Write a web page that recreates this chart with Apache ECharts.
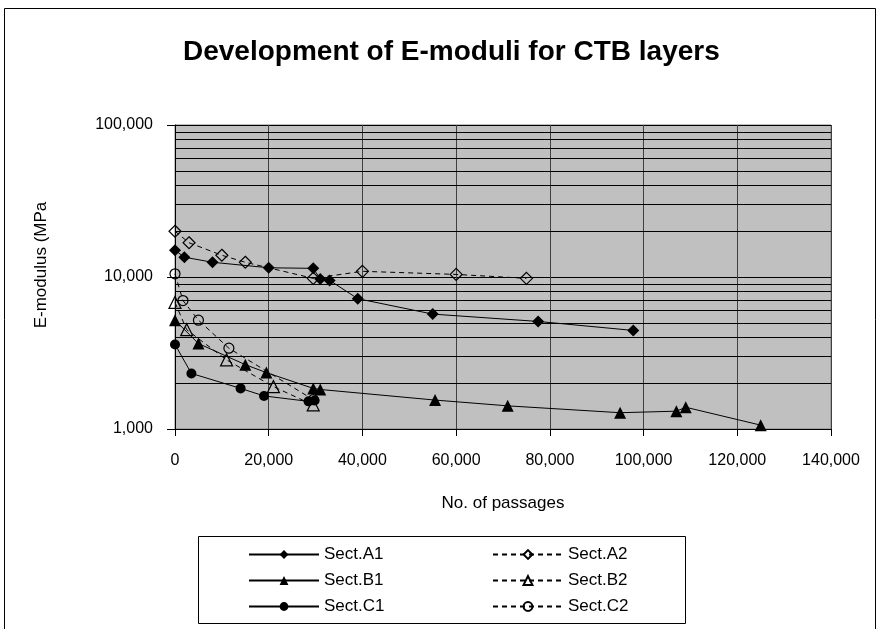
<!DOCTYPE html>
<html>
<head>
<meta charset="utf-8">
<script src="https://cdn.jsdelivr.net/npm/echarts@6/dist/echarts.min.js"></script>
<style>
  html, body { margin: 0; padding: 0; background: #fff; }
  #chart { width: 880px; height: 629px; }
</style>
</head>
<body>
<div id="chart"></div>
<script>
// E-modulus (MPa) measured against number of passages, per section
const sectA1 = [[0, 15000], [2000, 13500], [8000, 12500], [20000, 11500], [29500, 11400], [31000, 9700], [33000, 9500], [39000, 7200], [55000, 5700], [77500, 5100], [97800, 4450]];
const sectA2 = [[0, 20000], [3000, 16800], [10000, 13900], [15000, 12500], [29500, 9800], [40000, 10900], [60000, 10400], [75000, 9800]];
const sectB1 = [[0, 5200], [5000, 3650], [15000, 2650], [19500, 2350], [29500, 1850], [31000, 1820], [55500, 1550], [71000, 1420], [95000, 1280], [107000, 1310], [109000, 1390], [125000, 1060]];
const sectB2 = [[0, 6800], [2500, 4500], [11000, 2850], [21000, 1900], [29500, 1440]];
const sectC1 = [[0, 3600], [3500, 2320], [14000, 1850], [19000, 1650], [28500, 1520], [29800, 1540]];
const sectC2 = [[0, 10500], [1700, 7000], [5000, 5200], [11500, 3400], [29500, 1560]];

// Intermediate log-scale gridlines
const minorGrid = [2000, 3000, 4000, 5000, 6000, 7000, 8000, 9000, 20000, 30000, 40000, 50000, 60000, 70000, 80000, 90000];

const FONT = '"Liberation Sans", Arial, sans-serif';
const fmt = v => Number(v).toLocaleString('en-US');

function lineSeries(name, data, filled, symbol, size) {
  return {
    name: name,
    type: 'line',
    data: data,
    symbol: symbol,
    symbolSize: size,
    showSymbol: true,
    z: 3,
    silent: true,
    lineStyle: { color: '#000', width: 1, type: filled ? 'solid' : [5, 4] },
    itemStyle: filled
      ? { color: '#000', borderColor: '#000', borderWidth: 0 }
      : { color: 'rgba(0,0,0,0)', borderColor: '#000', borderWidth: 1.2 },
    emphasis: { disabled: true }
  };
}

const legendCommon = {
  orient: 'vertical', top: 541,
  itemWidth: 70, itemHeight: 11, itemGap: 9,
  textStyle: { fontFamily: FONT, fontSize: 17, color: '#000' },
  selectedMode: false
};

const chart = echarts.init(document.getElementById('chart'), null, { renderer: 'canvas' });

chart.setOption({
  animation: false,
  backgroundColor: '#fff',
  textStyle: { fontFamily: FONT },
  title: {
    text: 'Development of E-moduli for CTB layers',
    left: 178,
    top: 33,
    textStyle: { fontFamily: FONT, fontSize: 28, fontWeight: 'bold', color: '#000' }
  },
  graphic: [
    { type: 'rect', shape: { x: 4.5, y: 8.5, width: 871, height: 640 }, style: { fill: 'none', stroke: '#000', lineWidth: 1 }, z: -10 },
    { type: 'rect', shape: { x: 198.5, y: 536.5, width: 487, height: 87 }, style: { fill: '#fff', stroke: '#000', lineWidth: 1 }, z: -5 }
  ],
  grid: {
    left: 175, top: 125, right: 49, bottom: 200,
    show: true, backgroundColor: '#C0C0C0', borderColor: '#808080', borderWidth: 1
  },
  legend: [
    Object.assign({ data: ['Sect.A1', 'Sect.B1', 'Sect.C1'], left: 243 }, legendCommon),
    Object.assign({ data: ['Sect.A2', 'Sect.B2', 'Sect.C2'], left: 487 }, legendCommon)
  ],
  xAxis: {
    type: 'value', min: 0, max: 140000, interval: 20000,
    name: 'No. of passages', nameLocation: 'middle', nameGap: 66,
    nameTextStyle: { fontFamily: FONT, fontSize: 17, color: '#000' },
    axisLine: { show: true, onZero: false, lineStyle: { color: '#000', width: 1 } },
    axisTick: { show: true, length: 7, lineStyle: { color: '#000' } },
    axisLabel: { formatter: fmt, fontFamily: FONT, fontSize: 16, color: '#000', margin: 24 },
    splitLine: { show: true, lineStyle: { color: '#404040', width: 1 } }
  },
  yAxis: {
    type: 'log', logBase: 10, min: 1000, max: 100000,
    name: 'E-modulus (MPa', nameLocation: 'middle', nameGap: 125,
    nameTextStyle: { fontFamily: FONT, fontSize: 17, color: '#000', padding: [0, 0, 0, 24] },
    axisLine: { show: true, lineStyle: { color: '#000', width: 1 } },
    axisTick: { show: true, length: 8, lineStyle: { color: '#000' } },
    axisLabel: { formatter: fmt, fontFamily: FONT, fontSize: 16, color: '#000', margin: 22 },
    splitLine: { show: true, lineStyle: { color: '#000', width: 1 } }
  },
  series: [
    {
      type: 'line', data: [], silent: true, z: 1,
      markLine: {
        silent: true, symbol: 'none', animation: false,
        label: { show: false },
        lineStyle: { color: '#000', width: 1, type: 'solid' },
        emphasis: { disabled: true },
        data: minorGrid.map(v => ({ yAxis: v }))
      }
    },
    lineSeries('Sect.A1', sectA1, true, 'diamond', 12),
    lineSeries('Sect.A2', sectA2, false, 'diamond', 12),
    lineSeries('Sect.B1', sectB1, true, 'triangle', 12),
    lineSeries('Sect.B2', sectB2, false, 'triangle', 12),
    lineSeries('Sect.C1', sectC1, true, 'circle', 10),
    lineSeries('Sect.C2', sectC2, false, 'circle', 10)
  ]
});
</script>
</body>
</html>
